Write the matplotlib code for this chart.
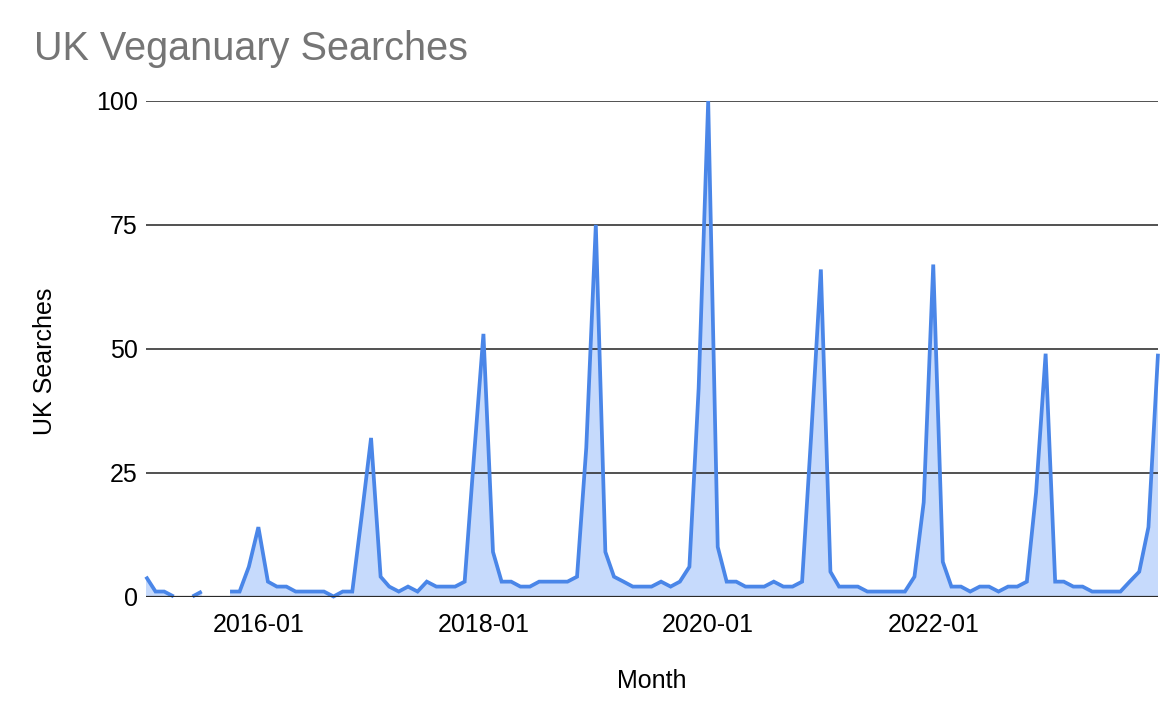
import numpy as np
import pandas as pd
import matplotlib
matplotlib.use("Agg")
import matplotlib.pyplot as plt

plt.rcParams['font.family'] = ['Liberation Sans', 'DejaVu Sans']

nan = np.nan
start_month = "2015-01-01"
searches = [
    4, 1, 1, 0, nan, 0, 1, nan, nan, 1, 1, 6,          # 2015
    14, 3, 2, 2, 1, 1, 1, 1, 0, 1, 1, 16,              # 2016
    32, 4, 2, 1, 2, 1, 3, 2, 2, 2, 3, 28,              # 2017
    53, 9, 3, 3, 2, 2, 3, 3, 3, 3, 4, 30,              # 2018
    75, 9, 4, 3, 2, 2, 2, 3, 2, 3, 6, 42,              # 2019
    100, 10, 3, 3, 2, 2, 2, 3, 2, 2, 3, 33,            # 2020
    66, 5, 2, 2, 2, 1, 1, 1, 1, 1, 4, 19,              # 2021
    67, 7, 2, 2, 1, 2, 2, 1, 2, 2, 3, 21,              # 2022
    49, 3, 3, 2, 2, 1, 1, 1, 1, 3, 5, 14,              # 2023
    49,                                                # 2024-01
]
x_tick_labels = ["2016-01", "2018-01", "2020-01", "2022-01"]
y_ticks = [0, 25, 50, 75, 100]

months = pd.date_range(start_month, periods=len(searches), freq="MS")
y = np.array(searches, dtype=float)

W, H = 1172, 712
fig = plt.figure(figsize=(W / 100, H / 100), dpi=100)
ax = fig.add_axes([146 / W, 1 - 596.5 / H, (1158 - 146) / W, (596.5 - 101) / H])

line_color = "#4a86e8"
fill_color = "#c6dafc"

ax.fill_between(months, 0, y, color=fill_color, linewidth=0, zorder=1)
ax.plot(months, y, color=line_color, linewidth=2.7, solid_joinstyle="miter",
        solid_capstyle="butt", zorder=3, clip_on=False)

ax.set_xlim(months[0], months[-1])
ax.set_ylim(0, 100)
ax.set_yticks(y_ticks)
ax.set_yticklabels([str(v) for v in y_ticks])
ax.set_xticks([pd.Timestamp(t + "-01") for t in x_tick_labels])
ax.set_xticklabels(x_tick_labels)

for v in y_ticks[1:]:
    ax.axhline(v, color="#2a2a2a", linewidth=1.15, zorder=2)
ax.axhline(0, color="#2a2a2a", linewidth=1.6, zorder=4)

for s in ax.spines.values():
    s.set_visible(False)
ax.tick_params(axis="both", length=0, labelsize=18, colors="#000000")
ax.tick_params(axis="y", pad=6)
ax.tick_params(axis="x", pad=12)

fig.text(652 / W, 1 - 681 / H, "Month", fontsize=18, ha="center", va="center")
fig.text(45 / W, 1 - 361 / H, "UK Searches", fontsize=18, rotation=90,
         ha="center", va="center")

fig.text(34 / W, 1 - 60 / H, "UK Veganuary Searches", fontsize=28.5,
         color="#757575", ha="left", va="baseline")

fig.savefig("out.png", dpi=100, facecolor="white")
